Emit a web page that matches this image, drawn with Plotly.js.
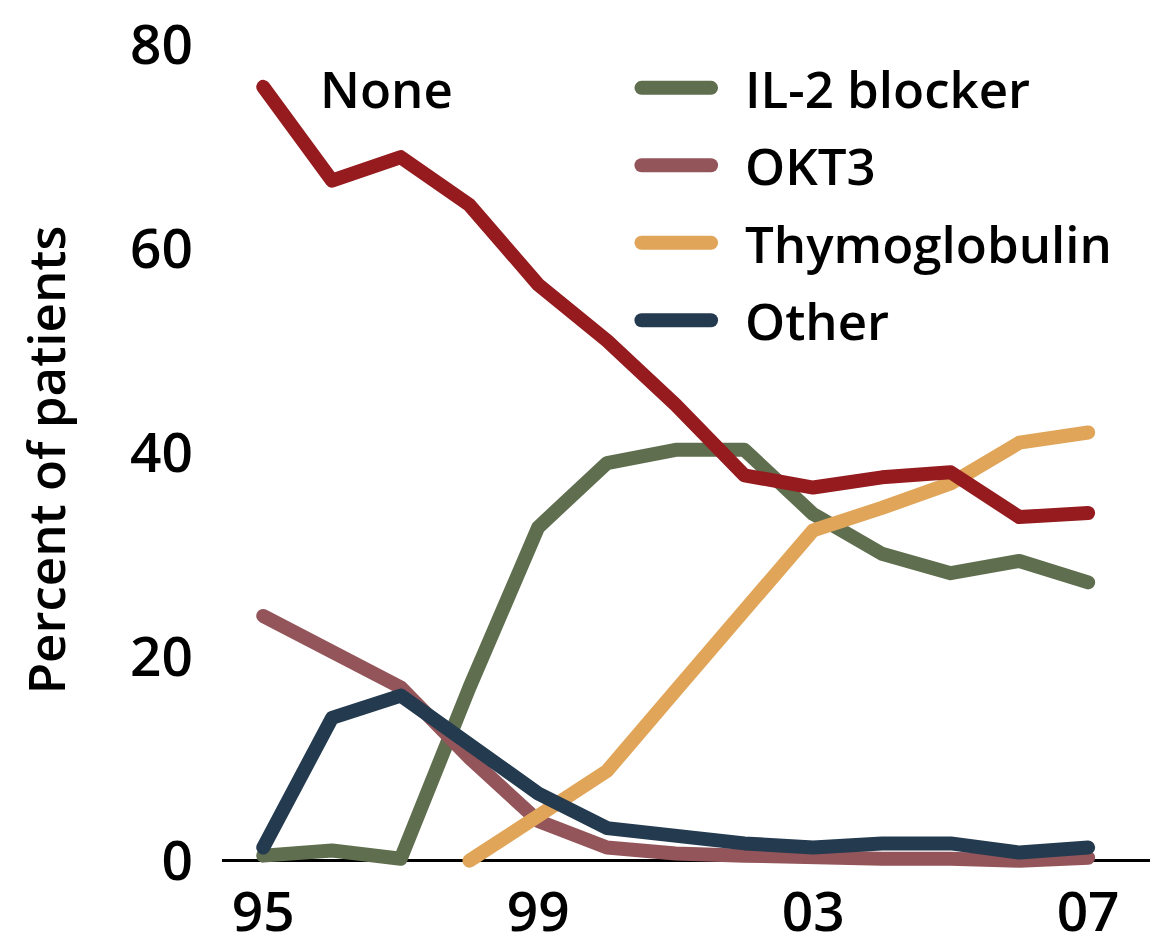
<!DOCTYPE html>
<html>
<head>
<meta charset="utf-8">
<script src="https://cdn.plot.ly/plotly-3.0.1.min.js"></script>
<style>
  html, body { margin: 0; padding: 0; background: #fff; }
  #chart { width: 1153px; height: 951px; }
  .js-line, .shapelayer path { stroke-linecap: round !important; stroke-linejoin: round !important; }
</style>
</head>
<body>
<div id="chart"></div>
<script>
// ---- data ----
const years = [1995, 1996, 1997, 1998, 1999, 2000, 2001, 2002, 2003, 2004, 2005, 2006, 2007];
const none_ = [75.9, 66.7, 69.0, 64.3, 56.5, 51.0, 44.7, 37.8, 36.6, 37.6, 38.1, 33.7, 34.1];
const il2 = [0.5, 1.0, 0.2, 17.0, 32.7, 39.0, 40.3, 40.3, 34.0, 30.1, 28.2, 29.4, 27.3];
const okt3 = [24.0, 20.4, 17.0, 10.1, 3.9, 1.3, 0.7, 0.5, 0.2, 0.2, 0.2, 0.0, 0.3];
const thymo = [null, null, null, 0.0, 4.6, 8.8, 16.7, 24.5, 32.4, 34.6, 37.0, 41.0, 42.0];
const other = [1.3, 14.0, 16.2, 11.5, 6.6, 3.2, 2.3, 1.7, 1.3, 1.7, 1.7, 0.8, 1.3];
const xTickVals = [1995, 1999, 2003, 2007];
const xTickText = ['95', '99', '03', '07'];
const yTickVals = [0, 20, 40, 60, 80];
const legendNames = ['IL-2 blocker', 'OKT3', 'Thymoglobulin', 'Other'];
const legendSeries = [il2, okt3, thymo, other];
const legendColors = ['#5f6e4f', '#93555a', '#e0a558', '#243a4f'];
const noneName = 'None';
const noneColor = '#951b1f';

const FONT = '"Open Sans", Lato, sans-serif';
const LW = 14;
const textFont = { family: FONT, size: 51, color: '#000', weight: 600 };
const tickFont = { family: FONT, size: 55, color: '#000', weight: 600 };

const traces = legendSeries.map((s, i) => ({
  x: years, y: s, type: 'scatter', mode: 'lines', name: legendNames[i],
  line: { color: legendColors[i], width: LW }, showlegend: false, connectgaps: false
}));
traces.push({
  x: years, y: none_, type: 'scatter', mode: 'lines', name: noneName,
  line: { color: noneColor, width: LW }, showlegend: false
});

// manual legend (positions in layout only)
const legTop = 75.8, legStep = 7.6;
const shapes = [], annotations = [];
legendNames.forEach((n, i) => {
  const yv = legTop - i * legStep;
  shapes.push({ type: 'line', xref: 'paper', yref: 'y', x0: 0.452, x1: 0.527, y0: yv, y1: yv,
    line: { color: legendColors[i], width: LW } });
  annotations.push({ xref: 'paper', yref: 'y', x: 0.561, y: yv, text: n, showarrow: false,
    xanchor: 'left', yanchor: 'middle', font: textFont });
});
annotations.push({ xref: 'x', yref: 'y', x: 1995.8, y: 75.8, text: noneName, showarrow: false,
  xanchor: 'left', yanchor: 'middle', font: textFont });

const layout = {
  width: 1153, height: 951,
  margin: { l: 222, r: 3, t: 45, b: 76 },
  paper_bgcolor: '#fff', plot_bgcolor: '#fff',
  showlegend: false,
  font: { family: FONT, size: 51, color: '#000' },
  xaxis: {
    range: [1994.4, 2007.9], tickvals: xTickVals, ticktext: xTickText,
    showgrid: false, zeroline: false, showline: false, ticks: '',
    tickfont: tickFont
  },
  yaxis: {
    range: [-1.4, 80], tickvals: yTickVals, showgrid: false,
    zeroline: true, zerolinecolor: '#000', zerolinewidth: 3,
    showline: false, ticks: '', ticklabelstandoff: 28,
    tickfont: tickFont,
    title: { text: 'Percent of patients', standoff: 48, font: textFont }
  },
  shapes: shapes,
  annotations: annotations
};

Plotly.newPlot('chart', traces, layout, { displayModeBar: false, staticPlot: true });
</script>
</body>
</html>
